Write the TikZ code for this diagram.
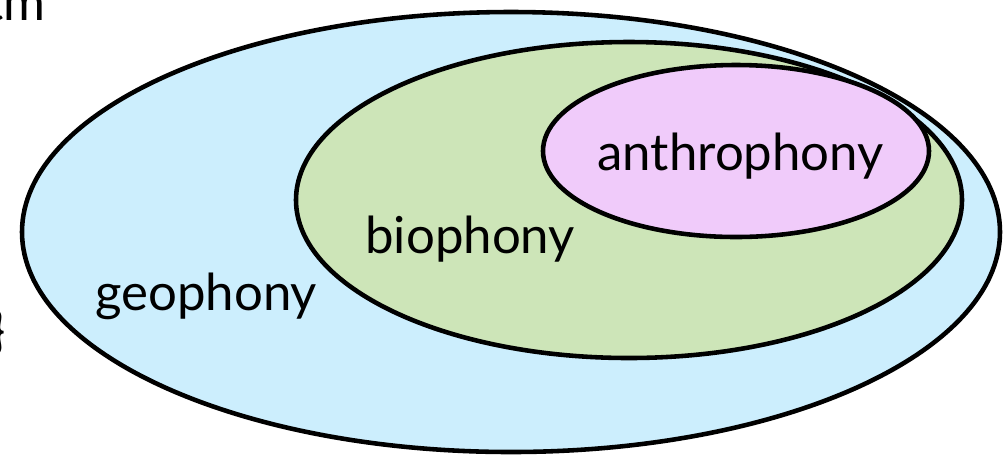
\documentclass[tikz,border=0pt]{standalone}
\usepackage{fontspec}
\setmainfont{Lato}
\definecolor{geo}{HTML}{CCEEFD}
\definecolor{bio}{HTML}{CDE5B8}
\definecolor{anth}{HTML}{F0CBFA}
\tikzset{
  region/.style={draw=black, line width=2.6pt},
  lbl/.style={inner sep=0pt, anchor=base west, font=\fontsize{29}{34}\selectfont}
}
\begin{document}
\begin{tikzpicture}[x=0.02cm, y=-0.02cm]
\useasboundingbox (0,0) rectangle (1008,458);
\path[region, fill=geo] (511,232) ellipse [x radius=489, y radius=220];
\path[region, fill=bio] (629,200) ellipse [x radius=333, y radius=158];
\path[region, fill=anth] (736,151) ellipse [x radius=193, y radius=86];
\node[lbl] (anthro) at (597,170) {anthrophony};
\node[lbl] (bio) at (365,253) {biophony};
\node[lbl] (geo) at (95,310) {geophony};
\node[lbl, anchor=base east] (tm) at (46,20) {tm};
\node[lbl, anchor=base east] (brace) at (6,348) {\}};
\end{tikzpicture}
\end{document}
